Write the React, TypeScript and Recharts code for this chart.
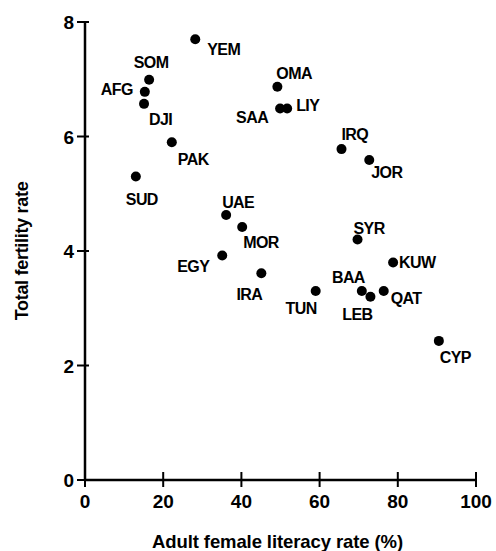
import React from "react";
import { ScatterChart, Scatter, XAxis, YAxis, Label } from "recharts";

const countries = ["YEM", "SOM", "AFG", "DJI", "PAK", "SUD", "OMA", "SAA", "LIY", "IRQ", "JOR", "UAE", "MOR", "EGY", "IRA", "TUN", "SYR", "KUW", "BAA", "LEB", "QAT", "CYP"];
const literacy = [28.2, 16.4, 15.3, 15.1, 22.2, 13.0, 49.2, 49.9, 51.7, 65.6, 72.7, 36.1, 40.2, 35.1, 45.1, 59.0, 69.7, 78.8, 70.8, 73.0, 76.4, 90.5];
const fertility = [7.7, 6.99, 6.78, 6.57, 5.9, 5.3, 6.87, 6.49, 6.49, 5.78, 5.59, 4.63, 4.42, 3.92, 3.61, 3.3, 4.2, 3.8, 3.3, 3.2, 3.3, 2.43];

const xTicks = [0, 20, 40, 60, 80, 100];
const yTicks = [0, 2, 4, 6, 8];

const data = countries.map((code, i) => ({ code, x: literacy[i], y: fertility[i] }));

// where each code sits around its dot
const placement: Record<string, { anchor: "start" | "middle" | "end"; dx: number; dy: number }> = {
  YEM: { anchor: "start", dx: 12, dy: 16 },
  SOM: { anchor: "middle", dx: 2, dy: -12 },
  AFG: { anchor: "end", dx: -12, dy: 3 },
  DJI: { anchor: "start", dx: 5, dy: 21 },
  PAK: { anchor: "start", dx: 6, dy: 23 },
  SUD: { anchor: "middle", dx: 6, dy: 28 },
  OMA: { anchor: "start", dx: -1, dy: -8 },
  SAA: { anchor: "end", dx: -12, dy: 15 },
  LIY: { anchor: "start", dx: 9, dy: 3 },
  IRQ: { anchor: "start", dx: 0, dy: -9 },
  JOR: { anchor: "start", dx: 2, dy: 18 },
  UAE: { anchor: "start", dx: -4, dy: -7 },
  MOR: { anchor: "start", dx: 1, dy: 21 },
  EGY: { anchor: "end", dx: -13, dy: 16 },
  IRA: { anchor: "middle", dx: -12, dy: 27 },
  TUN: { anchor: "end", dx: 1, dy: 23 },
  SYR: { anchor: "start", dx: -4, dy: -6 },
  KUW: { anchor: "start", dx: 6, dy: 6 },
  BAA: { anchor: "end", dx: 3, dy: -8 },
  LEB: { anchor: "end", dx: 2, dy: 23 },
  QAT: { anchor: "start", dx: 7, dy: 13 },
  CYP: { anchor: "start", dx: 1, dy: 22 },
};

const FONT = "'Liberation Sans', Arial, Helvetica, sans-serif";

const Dot = (props: any) => {
  const { cx, cy, payload } = props;
  const p = placement[payload.code];
  return (
    <g>
      <circle cx={cx} cy={cy} r={5} fill="#000" />
      <text
        x={cx + p.dx}
        y={cy + p.dy}
        textAnchor={p.anchor}
        fontFamily={FONT}
        fontWeight="bold"
        fontSize={16}
        letterSpacing={-0.6}
        fill="#000"
      >
        {payload.code}
      </text>
    </g>
  );
};

const XTick = (props: any) => {
  const { x, y, payload } = props;
  const axisY = y - 12;
  return (
    <g>
      <line x1={x} x2={x} y1={axisY - 8} y2={axisY + 7} stroke="#000" strokeWidth={2} />
      <text x={x} y={axisY + 28} textAnchor="middle" fontFamily={FONT} fontWeight="bold" fontSize={19} fill="#000">
        {payload.value}
      </text>
    </g>
  );
};

const YTick = (props: any) => {
  const { x, y, payload } = props;
  const axisX = x + 12;
  return (
    <g>
      <line x1={axisX - 8} x2={axisX + 4} y1={y} y2={y} stroke="#000" strokeWidth={2} />
      <text x={axisX - 11} y={y + 7} textAnchor="end" fontFamily={FONT} fontWeight="bold" fontSize={19} fill="#000">
        {payload.value}
      </text>
    </g>
  );
};

export default function App() {
  return (
    <div style={{ position: "absolute", left: 0, top: 0, background: "#fff" }}>
      <ScatterChart width={496} height={551} margin={{ top: 22, right: 20, left: 0, bottom: 0 }}>
        <XAxis
          type="number"
          dataKey="x"
          domain={[0, 100]}
          ticks={xTicks}
          height={71}
          axisLine={{ stroke: "#000", strokeWidth: 2.5 }}
          tickLine={false}
          tickSize={8}
          tickMargin={4}
          tick={<XTick />}
        >
          <Label
            content={({ viewBox }: any) => (
              <text
                x={viewBox.x + viewBox.width / 2 - 3}
                y={548}
                textAnchor="middle"
                fontFamily={FONT}
                fontWeight="bold"
                fontSize={18.5}
                letterSpacing={-0.1}
                fill="#000"
              >
                Adult female literacy rate (%)
              </text>
            )}
          />
        </XAxis>
        <YAxis
          type="number"
          dataKey="y"
          domain={[0, 8]}
          ticks={yTicks}
          width={85}
          axisLine={{ stroke: "#000", strokeWidth: 2.5 }}
          tickLine={false}
          tickSize={8}
          tickMargin={4}
          tick={<YTick />}
        >
          <Label
            content={({ viewBox }: any) => {
              const cy = viewBox.y + viewBox.height / 2;
              return (
                <text
                  x={28}
                  y={cy}
                  transform={`rotate(-90 28 ${cy})`}
                  textAnchor="middle"
                  fontFamily={FONT}
                  fontWeight="bold"
                  fontSize={18}
                  letterSpacing={-0.3}
                  fill="#000"
                >
                  Total fertility rate
                </text>
              );
            }}
          />
        </YAxis>
        <Scatter data={data} shape={<Dot />} isAnimationActive={false} />
      </ScatterChart>
    </div>
  );
}
